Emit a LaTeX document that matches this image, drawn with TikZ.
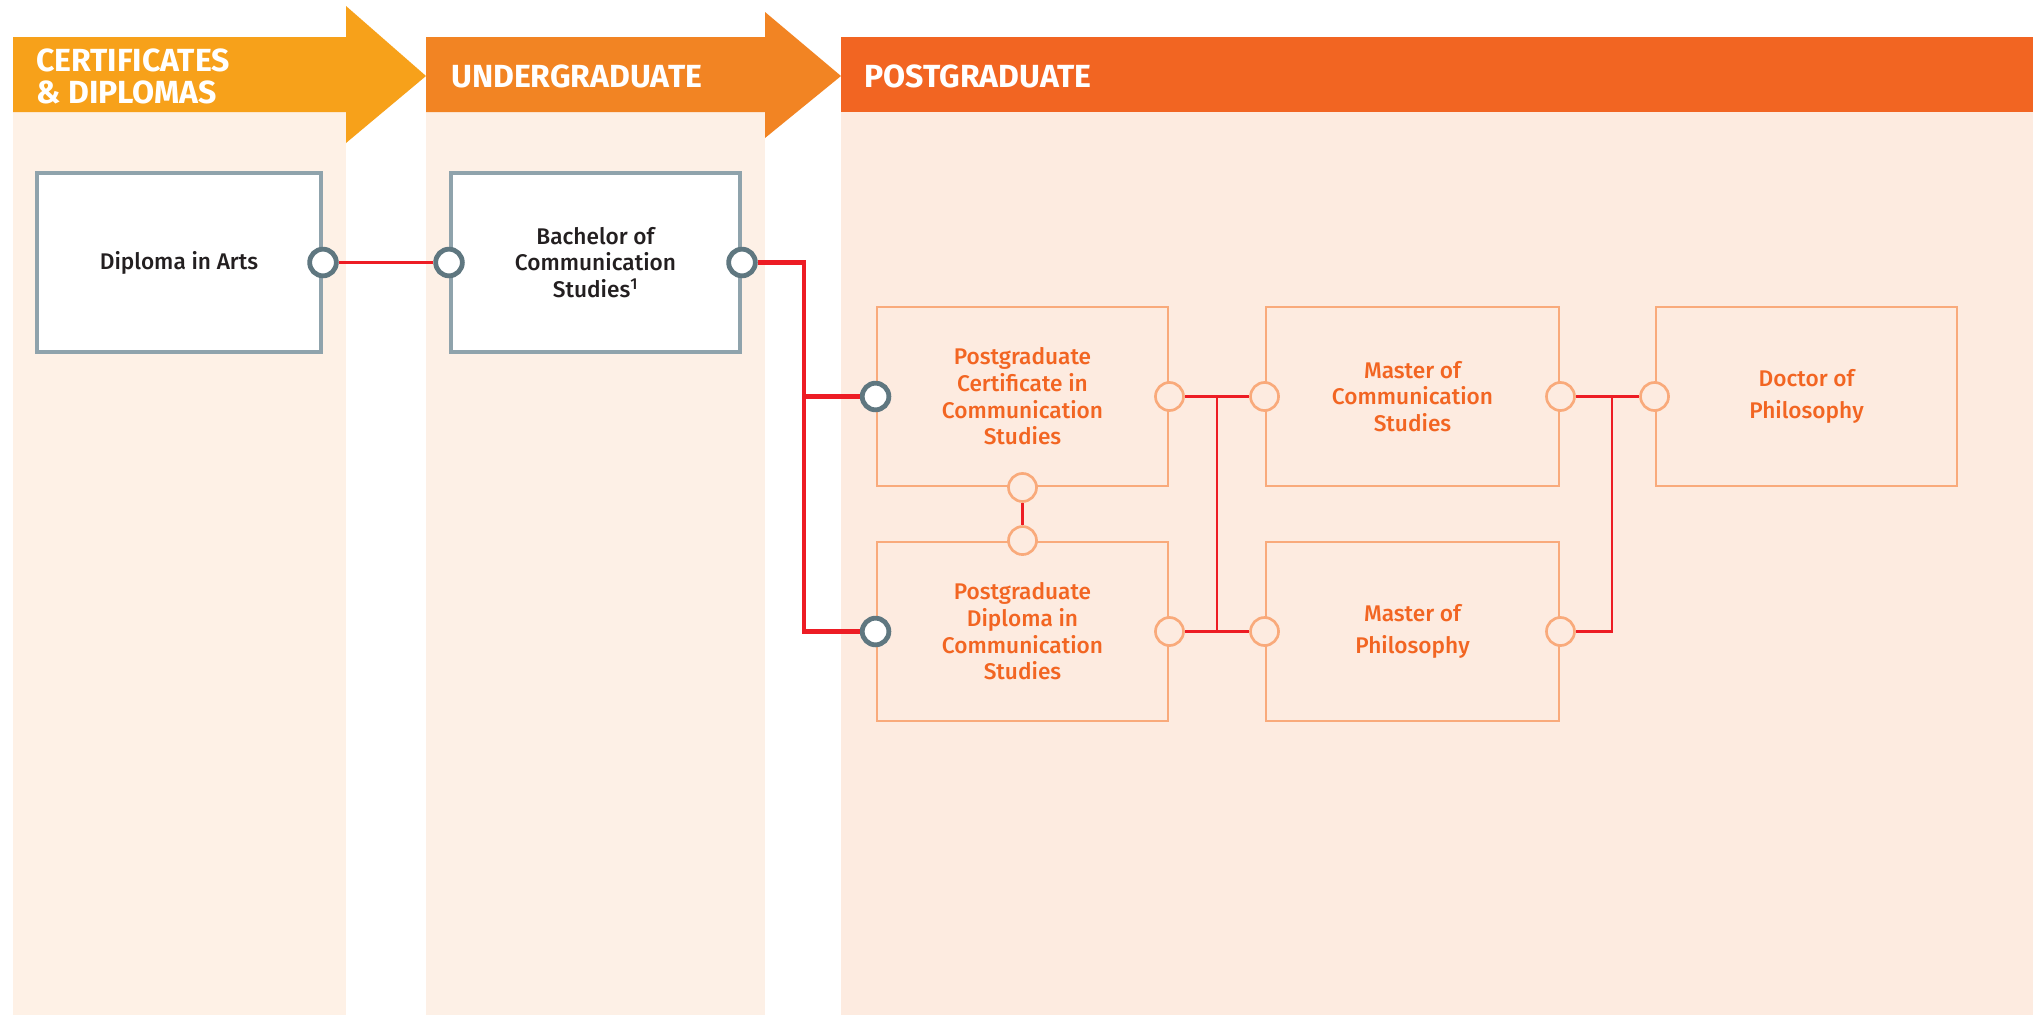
\documentclass[tikz,border=0pt]{standalone}
\usepackage{fontspec}
\setmainfont{Fira Sans}
\IfFontExistsTF{Fira Sans Medium}{\newfontfamily\bodyfont{Fira Sans Medium}}{\newfontfamily\bodyfont{Fira Sans}[FakeBold=1]}
\newfontfamily\headfont{Fira Sans}
\definecolor{certhead}{HTML}{F7A11A}
\definecolor{ughead}{HTML}{F28423}
\definecolor{pghead}{HTML}{F26522}
\definecolor{certbg}{HTML}{FEF1E6}
\definecolor{ugbg}{HTML}{FDF0E6}
\definecolor{pgbg}{HTML}{FDEBE0}
\definecolor{grayedge}{HTML}{8FA3AC}
\definecolor{graycirc}{HTML}{5F7780}
\definecolor{pgedge}{HTML}{F9AA7B}
\definecolor{pgtext}{HTML}{F26522}
\definecolor{redline}{HTML}{ED1C24}
\definecolor{darktext}{HTML}{231F20}
\tikzset{
  headtext/.style={text=white, font=\headfont\bfseries\fontsize{24}{24}\selectfont, inner sep=0pt, align=left},
  ugbox/.style={draw=grayedge, fill=white, line width=3pt, minimum height=134.25pt, align=center, text=darktext, inner sep=0pt, font=\bodyfont\fontsize{17}{20}\selectfont},
  pgbox/.style={draw=pgedge, fill=pgbg, line width=2.2pt, minimum height=134.25pt, align=center, text=pgtext, inner sep=0pt, font=\bodyfont\fontsize{17}{20}\selectfont},
  widespace/.style={font=\bodyfont\fontsize{17}{24.5}\selectfont},
  graycircle/.style={circle, draw=graycirc, fill=white, line width=3.6pt, minimum size=20pt, inner sep=0pt},
  pgcircle/.style={circle, draw=pgedge, fill=pgbg, line width=2pt, minimum size=21pt, inner sep=0pt},
  thickred/.style={draw=redline, line width=3.4pt},
  thinred/.style={draw=redline, line width=2pt},
}
\begin{document}
\begin{tikzpicture}[x=0.75pt, y=-0.75pt]
\useasboundingbox (0,0) rectangle (2040,1018);
\fill[white] (0,0) rectangle (2040,1018);
% bands
\fill[certbg] (13,112) rectangle (346,1015);
\fill[ugbg] (426,112) rectangle (765,1015);
\fill[pgbg] (841,112) rectangle (2033,1015);
% headers
\fill[certhead] (13,37) -- (346,37) -- (346,6) -- (426,76) -- (346,143) -- (346,112) -- (13,112) -- cycle;
\fill[ughead] (426,37) -- (765,37) -- (765,12) -- (841,76) -- (765,138) -- (765,112) -- (426,112) -- cycle;
\fill[pghead] (841,37) rectangle (2033,112);
\node[headtext, anchor=base west] (hcert) at (36,103) {CERTIFICATES\\\& DIPLOMAS};
\node[headtext, anchor=base west] (hug) at (451,87) {UNDERGRADUATE};
\node[headtext, anchor=base west] (hpg) at (864,87) {POSTGRADUATE};
% boxes
\node[ugbox, minimum width=213pt] (da) at (179,262.5) {Diploma in Arts};
\node[ugbox, minimum width=216.75pt] (bc) at (595.5,262.5) {Bachelor of\\Communication\\Studies\textsuperscript{1}};
\node[pgbox, minimum width=218.25pt] (pgc) at (1022.5,396.5) {Postgraduate\\Certificate in\\Communication\\Studies};
\node[pgbox, minimum width=218.25pt] (pgd) at (1022.5,631.5) {Postgraduate\\Diploma in\\Communication\\Studies};
\node[pgbox, minimum width=219.75pt] (mc) at (1412.5,396.5) {Master of\\Communication\\Studies};
\node[pgbox, widespace, minimum width=219.75pt] (mp) at (1412.5,631.5) {Master of\\Philosophy};
\node[pgbox, widespace, minimum width=225.75pt] (dp) at (1806.5,396.5) {Doctor of\\Philosophy};
% circles
\node[graycircle] (da-r) at (da.east) {};
\node[graycircle] (bc-l) at (bc.west) {};
\node[graycircle] (bc-r) at (bc.east) {};
\node[graycircle] (pgc-l) at (pgc.west) {};
\node[graycircle] (pgd-l) at (pgd.west) {};
\node[pgcircle] (pgc-r) at (pgc.east) {};
\node[pgcircle] (pgc-b) at (pgc.south) {};
\node[pgcircle] (pgd-t) at (pgd.north) {};
\node[pgcircle] (pgd-r) at (pgd.east) {};
\node[pgcircle] (mc-l) at (mc.west) {};
\node[pgcircle] (mc-r) at (mc.east) {};
\node[pgcircle] (mp-l) at (mp.west) {};
\node[pgcircle] (mp-r) at (mp.east) {};
\node[pgcircle] (dp-l) at (dp.west) {};
% junctions
\coordinate (j1) at (804,262.5);
\coordinate (j2) at (1217,0);
\coordinate (j3) at (1612,0);
% connectors
\draw[thinred] (da-r) -- (bc-l);
\draw[thickred] (bc-r) -- (j1) |- (pgc-l);
\draw[thickred] (j1) |- (pgd-l);
\draw[thinred] (pgc-b) -- (pgd-t);
\draw[thinred] (pgc-r) -- (mc-l);
\draw[thinred] (pgd-r) -- (mp-l);
\draw[thinred] (pgc-r -| j2) -- (pgd-r -| j2);
\draw[thinred] (mc-r) -- (dp-l);
\draw[thinred] (mp-r) -| (mc-r -| j3);
\end{tikzpicture}
\end{document}
